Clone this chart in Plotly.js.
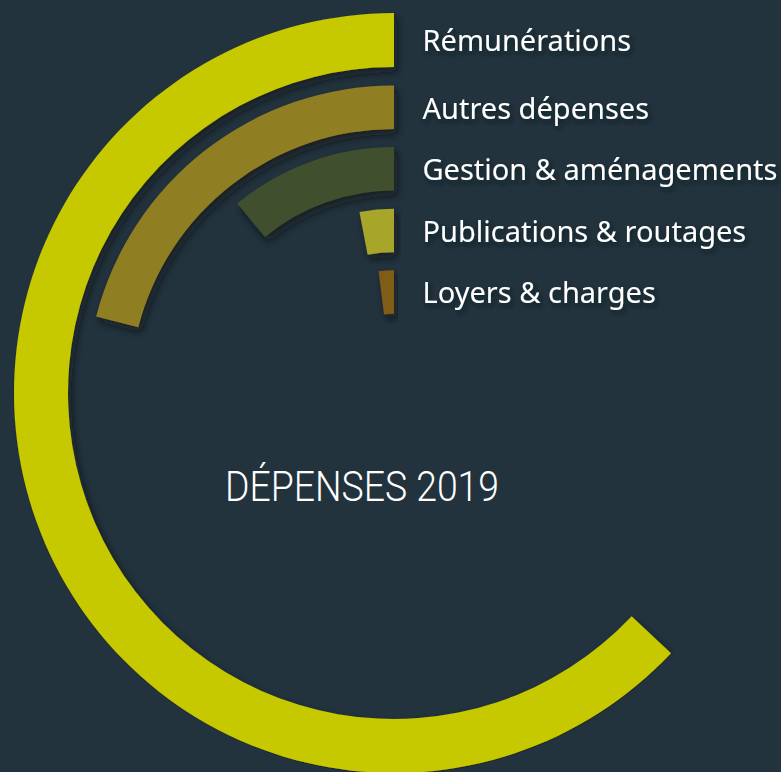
<!DOCTYPE html>
<html><head><meta charset="utf-8">
<script src="https://cdn.plot.ly/plotly-3.0.1.min.js"></script>
<style>
html,body{margin:0;padding:0;overflow:hidden;background:#22333e;}
#chart{width:781px;height:780px;}
.barlayer path{filter:url(#barShadow);}
.scatterlayer .textpoint text{filter:url(#textShadow);}
text.gtitle{transform-box:fill-box;transform-origin:center;transform:scaleX(0.89);}
</style></head><body>
<svg width="0" height="0" style="position:absolute">
  <defs>
    <filter id="barShadow" x="-20%" y="-20%" width="140%" height="140%">
      <feDropShadow dx="3" dy="5" stdDeviation="4" flood-color="#0a1218" flood-opacity="0.65"/>
    </filter>
    <filter id="textShadow" x="-10%" y="-30%" width="120%" height="160%">
      <feDropShadow dx="2" dy="3" stdDeviation="2.5" flood-color="#0a1218" flood-opacity="0.8"/>
    </filter>
  </defs>
</svg>
<div id="chart"></div>
<script>
// Data (share of 2019 expenses, %)
const categories = ["Rémunérations", "Autres dépenses", "Gestion & aménagements", "Publications & routages", "Loyers & charges"];
const values = [63, 21, 11, 3, 2];
const colors = ["#c6c800", "#907f23", "#41502d", "#a7a52b", "#805d16"];
const titleText = "DÉPENSES 2019";

// Geometry (styling only)
const total = values.reduce((a, b) => a + b, 0);
const degs = values.map(v => v / total * 360);
const pitch = 61.6;
const inner = categories.map((c, i) => i === 0 ? 326 : 264 - pitch * (i - 1));
const thick = categories.map((c, i) => i === 0 ? 54 : 43.5);
const mids = inner.map((r, i) => r + thick[i] / 2 - 4);

const W = 781, H = 780, cx = 394, cy = 393, R = 381;

const bars = {
  type: "barpolar",
  theta: degs.map(d => d / 2),
  width: degs,
  base: inner,
  r: thick,
  marker: {color: colors, line: {width: 0}},
  hoverinfo: "skip",
  showlegend: false
};

const labels = {
  type: "scatterpolar",
  mode: "markers+text",
  theta: categories.map(() => 0),
  r: mids,
  text: categories,
  textposition: "middle right",
  textfont: {family: "Noto Sans, Open Sans, sans-serif", size: 29, color: "#ffffff"},
  marker: {size: 44, opacity: 0},
  cliponaxis: false,
  hoverinfo: "skip",
  showlegend: false
};

const layout = {
  width: W, height: H,
  margin: {l: 0, r: 0, t: 0, b: 0},
  paper_bgcolor: "#22333e",
  plot_bgcolor: "#22333e",
  title: {
    text: titleText,
    x: 362 / W, xanchor: "center", xref: "paper",
    y: 1 - 486 / H, yanchor: "middle", yref: "container",
    font: {family: "Roboto, sans-serif", weight: 300, size: 42, color: "#ffffff"}
  },
  polar: {
    domain: {x: [(cx - R) / W, (cx + R) / W], y: [(H - cy - R) / H, (H - cy + R) / H]},
    bgcolor: "rgba(0,0,0,0)",
    radialaxis: {range: [0, R], visible: false, showgrid: false},
    angularaxis: {rotation: 90, direction: "counterclockwise", visible: false, showgrid: false},
    hole: 0
  },
  showlegend: false
};

Plotly.newPlot("chart", [bars, labels], layout, {displayModeBar: false, staticPlot: true});
</script>
</body></html>
